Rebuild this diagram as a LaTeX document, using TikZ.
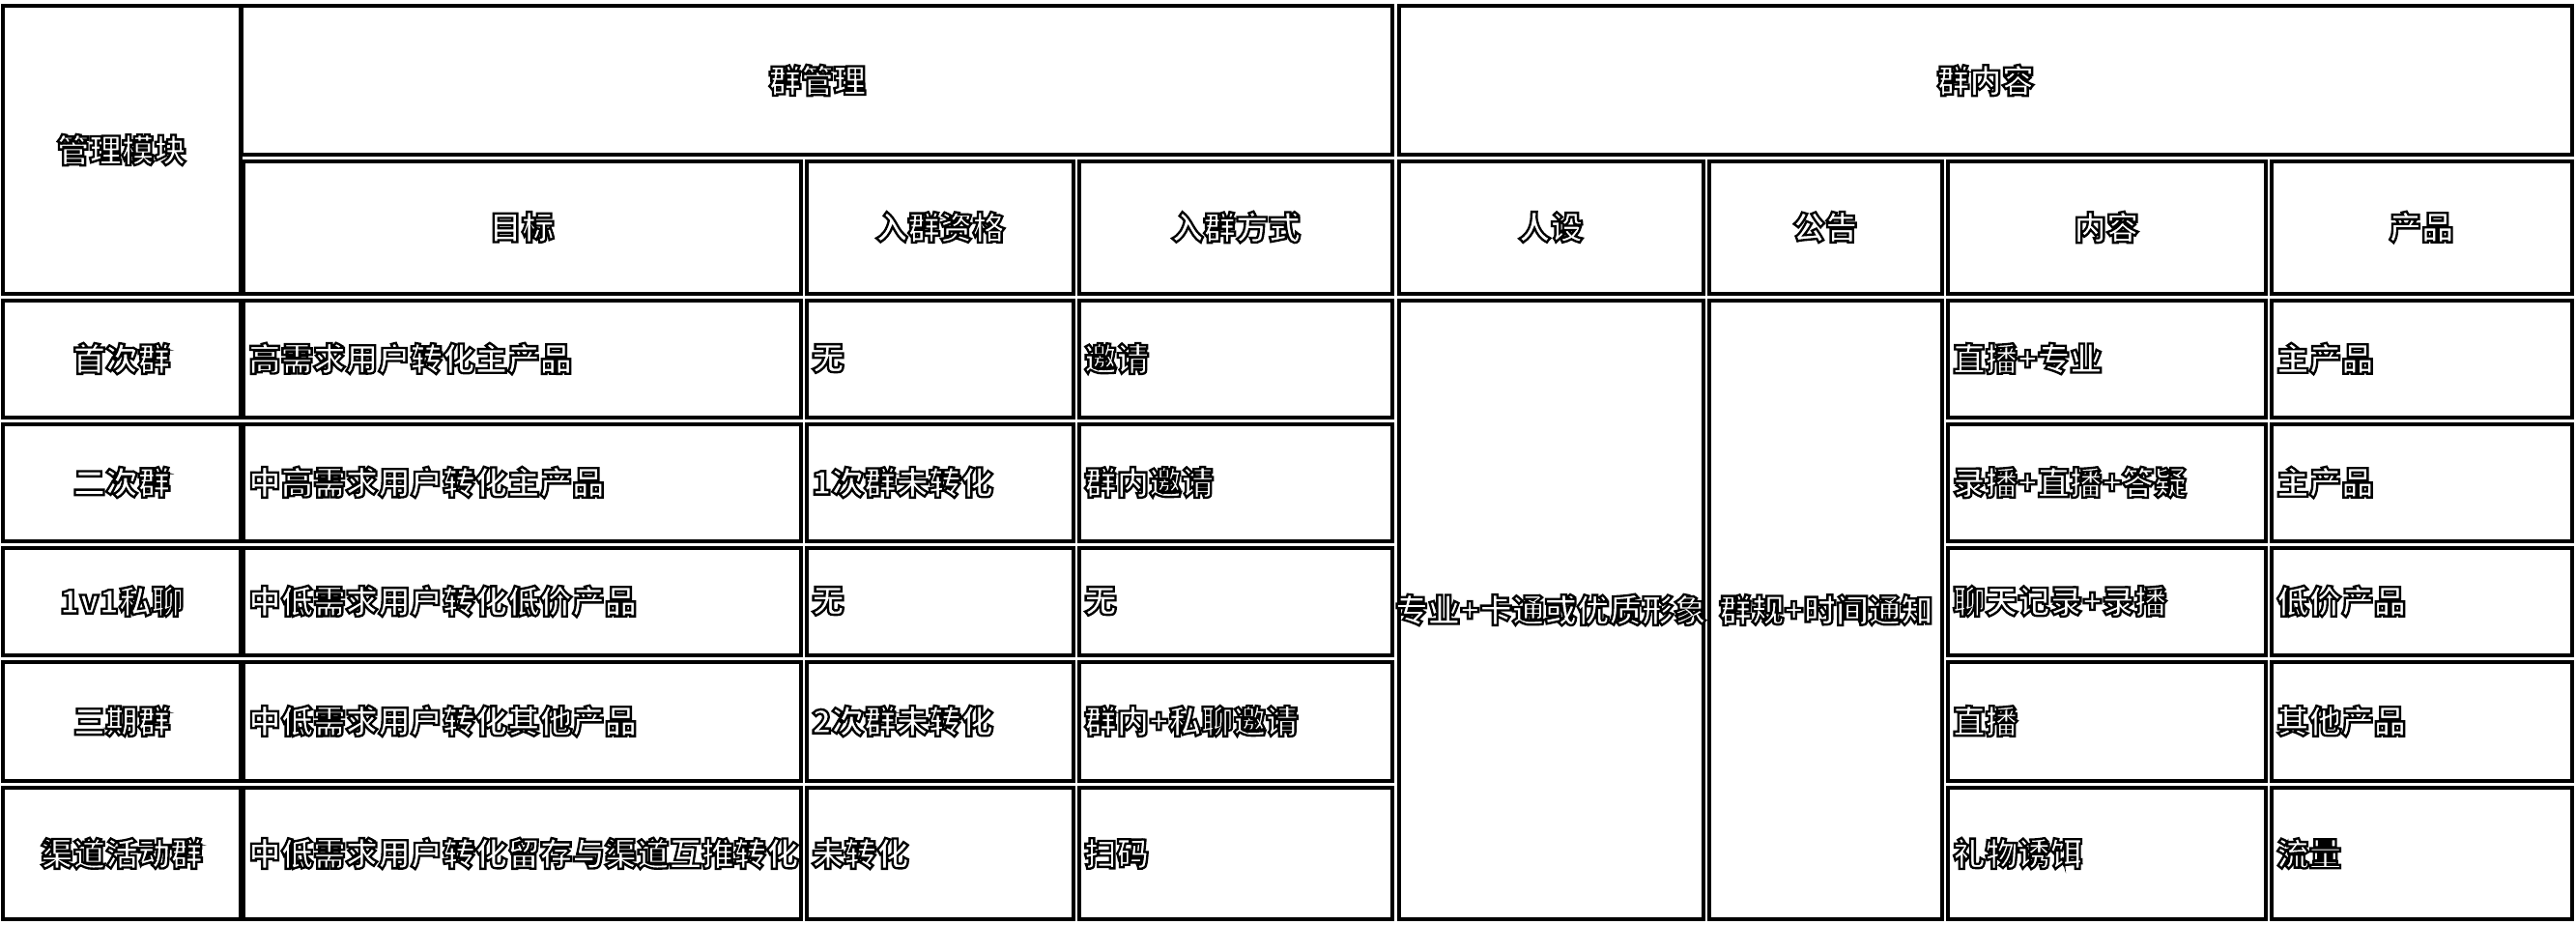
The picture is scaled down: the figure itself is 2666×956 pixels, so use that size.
\documentclass[tikz,border=0pt]{standalone}
\usepackage{fontspec}
\newfontfamily\cjk[FakeBold=7]{Noto Sans CJK SC}
\newcommand\otx[1]{\special{pdf:bcolor [1] [0]}#1\special{pdf:ecolor}}
\tikzset{
  cellbox/.style={draw=black, line width=4.4pt},
  celltxt/.style={font=\cjk\bfseries\fontsize{33.5}{36}\selectfont, inner sep=0pt},
  lefttxt/.style={celltxt, anchor=west}
}
\begin{document}
\begin{tikzpicture}[x=1pt,y=-1pt]
\useasboundingbox[fill=white] (0,0) rectangle (2666,956);
% ---------- header boxes ----------
\draw[cellbox] (3,6) rectangle (249,304);
\draw[cellbox] (250,6) rectangle (1441,160);
\draw[cellbox] (1448,6) rectangle (2662,160);
\foreach \xl/\xr in {252/829, 835/1111, 1117/1441, 1448/1763, 1769/2010, 2016/2345, 2351/2662}
  \draw[cellbox] (\xl,167) rectangle (\xr,304);
% ---------- body boxes ----------
\foreach \yt/\yb in {311/432, 439/560, 567/678, 685/808, 815/951}{
  \foreach \xl/\xr in {3/249, 252/829, 835/1111, 1117/1441, 2016/2345, 2351/2662}
    \draw[cellbox] (\xl,\yt) rectangle (\xr,\yb);
}
\draw[cellbox] (1448,311) rectangle (1763,951);
\draw[cellbox] (1769,311) rectangle (2010,951);
% ---------- header texts ----------
\node[celltxt] (hmod) at (126,155) {\otx{管理模块}};
\node[celltxt] (hgm) at (846,83) {\otx{群管理}};
\node[celltxt] (hgn) at (2055,83) {\otx{群内容}};
\node[celltxt] (hmb) at (540,235) {\otx{目标}};
\node[celltxt] (hzg) at (973,235) {\otx{入群资格}};
\node[celltxt] (hfs) at (1279,235) {\otx{入群方式}};
\node[celltxt] (hrs) at (1605,235) {\otx{人设}};
\node[celltxt] (hgg) at (1889,235) {\otx{公告}};
\node[celltxt] (hnr) at (2180,235) {\otx{内容}};
\node[celltxt] (hcp) at (2506,235) {\otx{产品}};
% ---------- row labels ----------
\node[celltxt] (r1a) at (126,371) {\otx{首次群}};
\node[celltxt] (r2a) at (126,499) {\otx{二次群}};
\node[celltxt] (r3a) at (126,622) {\otx{1v1私聊}};
\node[celltxt] (r4a) at (126,746) {\otx{三期群}};
\node[celltxt] (r5a) at (126,883) {\otx{渠道活动群}};
% ---------- 目标 ----------
\node[lefttxt] (r1b) at (257,371) {\otx{高需求用户转化主产品}};
\node[lefttxt] (r2b) at (257,499) {\otx{中高需求用户转化主产品}};
\node[lefttxt] (r3b) at (257,622) {\otx{中低需求用户转化低价产品}};
\node[lefttxt] (r4b) at (257,746) {\otx{中低需求用户转化其他产品}};
\node[lefttxt] (r5b) at (257,883) {\otx{中低需求用户转化留存与渠道互推转化}};
% ---------- 入群资格 ----------
\node[lefttxt] (r1c) at (840,371) {\otx{无}};
\node[lefttxt] (r2c) at (840,499) {\otx{1次群未转化}};
\node[lefttxt] (r3c) at (840,622) {\otx{无}};
\node[lefttxt] (r4c) at (840,746) {\otx{2次群未转化}};
\node[lefttxt] (r5c) at (840,883) {\otx{未转化}};
% ---------- 入群方式 ----------
\node[lefttxt] (r1d) at (1122,371) {\otx{邀请}};
\node[lefttxt] (r2d) at (1122,499) {\otx{群内邀请}};
\node[lefttxt] (r3d) at (1122,622) {\otx{无}};
\node[lefttxt] (r4d) at (1122,746) {\otx{群内+私聊邀请}};
\node[lefttxt] (r5d) at (1122,883) {\otx{扫码}};
% ---------- merged ----------
\node[celltxt] (mrs) at (1605,631) {\otx{专业+卡通或优质形象}};
\node[celltxt] (mgg) at (1890,631) {\otx{群规+时间通知}};
% ---------- 内容 ----------
\node[lefttxt] (r1f) at (2021,371) {\otx{直播+专业}};
\node[lefttxt] (r2f) at (2021,499) {\otx{录播+直播+答疑}};
\node[lefttxt] (r3f) at (2021,622) {\otx{聊天记录+录播}};
\node[lefttxt] (r4f) at (2021,746) {\otx{直播}};
\node[lefttxt] (r5f) at (2021,883) {\otx{礼物诱饵}};
% ---------- 产品 ----------
\node[lefttxt] (r1g) at (2356,371) {\otx{主产品}};
\node[lefttxt] (r2g) at (2356,499) {\otx{主产品}};
\node[lefttxt] (r3g) at (2356,622) {\otx{低价产品}};
\node[lefttxt] (r4g) at (2356,746) {\otx{其他产品}};
\node[lefttxt] (r5g) at (2356,883) {\otx{流量}};
\end{tikzpicture}
\end{document}
